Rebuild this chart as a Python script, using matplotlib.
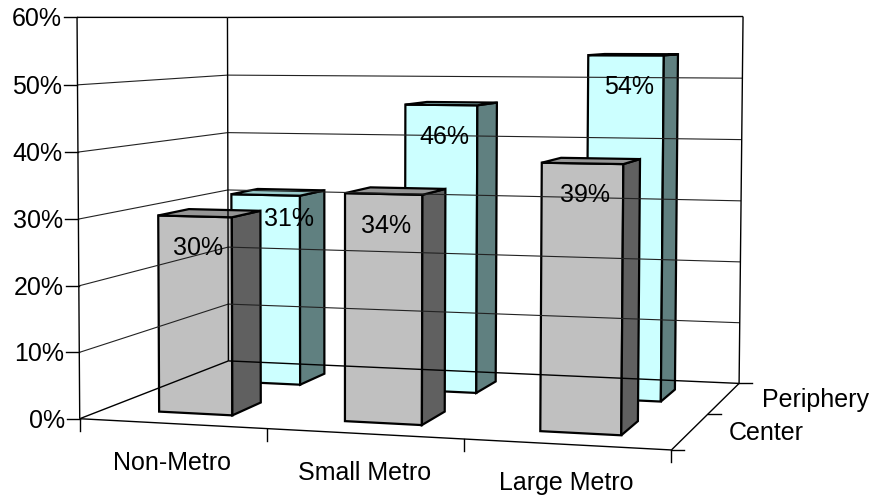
import numpy as np
import matplotlib.pyplot as plt
from matplotlib.patches import Polygon

# data
categories = ["Non-Metro", "Small Metro", "Large Metro"]
series_names = ["Center", "Periphery"]
center_vals = [0.30, 0.34, 0.39]
periphery_vals = [0.31, 0.46, 0.54]
value_ticks = [0.0, 0.1, 0.2, 0.3, 0.4, 0.5, 0.6]

# styles
face_colors = {
    "Center": ("#C0C0C0", "#969696", "#606060"),      # front, top, side
    "Periphery": ("#CCFFFF", "#99CCCC", "#608080"),
}
label_nudge = {("Periphery", 0): (20, -8)}
FONT = "Liberation Sans"
FS = 18

# perspective camera: box corners (category, depth, value) -> pixel position
box_world = np.array([
    (0, 0, 0.0), (0, 0, 0.1), (0, 0, 0.2), (0, 0, 0.3), (0, 0, 0.4), (0, 0, 0.5), (0, 0, 0.6),
    (0, 2, 0.0), (0, 2, 0.3), (0, 2, 0.6),
    (3, 2, 0.0), (3, 2, 0.3), (3, 2, 0.6),
    (3, 0, 0.0), (1, 0, 0.0), (2, 0, 0.0), (3, 1, 0.0),
])
box_px = np.array([
    (80, 418), (79, 352), (79, 286), (78, 219), (78, 152), (77, 86), (77, 17),
    (228, 362), (228, 190), (228, 17),
    (739, 383), (741, 200), (743, 17),
    (672, 451), (268, 428), (463, 439), (708, 414),
]) / 500.0


def fit_camera(world, px):
    rows = []
    for (X, Y, Z), (u, v) in zip(world, px):
        p = np.array([X, Y, Z, 1.0])
        rows.append(np.concatenate([p, np.zeros(4), -u * p]))
        rows.append(np.concatenate([np.zeros(4), p, -v * p]))
    _, _, vt = np.linalg.svd(np.array(rows))
    return vt[-1].reshape(3, 4)


P = fit_camera(box_world, box_px)


def proj(X, Y, Z):
    h = P @ np.array([X, Y, Z, 1.0])
    return h[0] / h[2] * 500.0, h[1] / h[2] * 500.0


fig = plt.figure(figsize=(8.74, 5), dpi=100)
ax = fig.add_axes([0, 0, 1, 1])
ax.set_xlim(0, 874)
ax.set_ylim(500, 0)
ax.axis("off")

n_cat = len(categories)
n_ser = len(series_names)
zmax = value_ticks[-1]


def line3d(a, b, **kw):
    pa, pb = proj(*a), proj(*b)
    ax.plot([pa[0], pb[0]], [pa[1], pb[1]], solid_capstyle="butt", **kw)


# gridlines on left and back walls
for z in value_ticks[1:-1]:
    line3d((0, 0, z), (0, n_ser, z), color="#222222", lw=0.8)
    line3d((0, n_ser, z), (n_cat, n_ser, z), color="#222222", lw=0.8)

# frame edges
wall = dict(color="black", lw=1.0)
line3d((0, 0, 0), (0, 0, zmax), **wall)
line3d((0, 0, zmax), (0, n_ser, zmax), **wall)
line3d((0, n_ser, 0), (0, n_ser, zmax), **wall)
line3d((0, n_ser, zmax), (n_cat, n_ser, zmax), **wall)
line3d((n_cat, n_ser, 0), (n_cat, n_ser, zmax), **wall)
line3d((0, 0, 0), (n_cat, 0, 0), **wall)
line3d((n_cat, 0, 0), (n_cat, n_ser, 0), **wall)
line3d((0, n_ser, 0), (n_cat, n_ser, 0), **wall)
line3d((0, 0, 0), (0, n_ser, 0), **wall)

# value axis ticks and labels
for z in value_ticks:
    x, y = proj(0, 0, z)
    ax.plot([x - 13, x], [y, y], color="black", lw=1.0)
    ax.text(x - 15, y + 9, f"{z:.0%}", ha="right", va="baseline",
            fontsize=FS, family=FONT)

# category ticks and labels
for i in range(n_cat + 1):
    x, y = proj(i, 0, 0)
    ax.plot([x, x], [y, y + 12], color="black", lw=1.0)
for i, name in enumerate(categories):
    x, y = proj(i + 0.5, 0, 0)
    ax.text(x, y + 37 + 9, name, ha="center", va="baseline",
            fontsize=FS, family=FONT)

# series (depth) ticks and labels
for s in range(n_ser + 1):
    x, y = proj(n_cat, s, 0)
    ax.plot([x, x + 13], [y, y], color="black", lw=1.0)
for s, name in enumerate(series_names):
    x, y = proj(n_cat, s + 0.5, 0)
    ax.text(x + 38, y + 9, name, ha="left", va="baseline",
            fontsize=FS, family=FONT)

# bars: back row first, then front row, left to right
bar_w, bar_d = 0.4, 0.4
rows = list(zip(series_names, [center_vals, periphery_vals]))
for s in reversed(range(n_ser)):
    name, vals = rows[s]
    front_c, top_c, side_c = face_colors[name]
    for i, v in enumerate(vals):
        x0 = i + (1 - bar_w) / 2
        x1 = x0 + bar_w
        y0 = s + (1 - bar_d) / 2
        y1 = y0 + bar_d
        faces = [
            ([(x0, y0, 0), (x1, y0, 0), (x1, y0, v), (x0, y0, v)], front_c),
            ([(x1, y0, 0), (x1, y1, 0), (x1, y1, v), (x1, y0, v)], side_c),
            ([(x0, y0, v), (x1, y0, v), (x1, y1, v), (x0, y1, v)], top_c),
        ]
        for pts, c in faces:
            poly = Polygon([proj(*p) for p in pts], closed=True, facecolor=c,
                           edgecolor="black", lw=1.6, joinstyle="miter")
            ax.add_patch(poly)
        lx, ly = proj(i + 0.5, y0, v)
        dx, dy = label_nudge.get((name, i), (0, 0))
        ax.text(lx + 3 + dx, ly + 30 + 9 + dy, f"{v:.0%}", ha="center",
                va="baseline", fontsize=FS, family=FONT)

fig.savefig("out.png", dpi=100)
